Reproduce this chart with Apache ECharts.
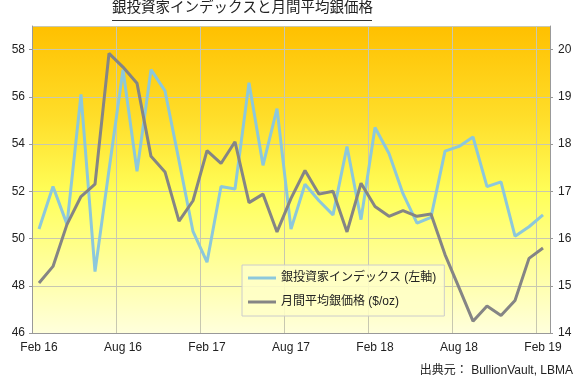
<!DOCTYPE html>
<html>
<head>
<meta charset="utf-8">
<script src="https://cdn.jsdelivr.net/npm/echarts@6/dist/echarts.min.js"></script>
<style>
html,body{margin:0;padding:0;background:#fff;}
#chart{width:580px;height:382px;}
</style>
</head>
<body>
<div id="chart"></div>
<script>
const categories = [
  'Feb 16','Mar 16','Apr 16','May 16','Jun 16','Jul 16','Aug 16','Sep 16','Oct 16','Nov 16','Dec 16','Jan 17',
  'Feb 17','Mar 17','Apr 17','May 17','Jun 17','Jul 17','Aug 17','Sep 17','Oct 17','Nov 17','Dec 17','Jan 18',
  'Feb 18','Mar 18','Apr 18','May 18','Jun 18','Jul 18','Aug 18','Sep 18','Oct 18','Nov 18','Dec 18','Jan 19',
  'Feb 19'
];
const indexValues = [
  50.4, 52.2, 50.6, 56.1, 48.6, 52.9, 57.15, 52.85, 57.15, 56.25, 53.3, 50.3,
  49.0, 52.2, 52.1, 56.6, 53.1, 55.5, 50.4, 52.3, 51.6, 51.0, 53.9, 50.8,
  54.7, 53.6, 51.9, 50.65, 50.9, 53.7, 53.9, 54.3, 52.2, 52.4, 50.1, 50.5,
  51.0
];
const silverPrice = [
  15.06, 15.41, 16.3, 16.89, 17.15, 19.92, 19.63, 19.29, 17.74, 17.41, 16.37, 16.80,
  17.86, 17.59, 18.05, 16.76, 16.94, 16.14, 16.85, 17.44, 16.94, 17.0, 16.14, 17.17,
  16.68, 16.47, 16.59, 16.47, 16.52, 15.66, 14.96, 14.25, 14.57, 14.37, 14.69, 15.58,
  15.8
];
const seriesNames = ['銀投資家インデックス (左軸)', '月間平均銀価格 ($/oz)'];
const titleText = '銀投資家インデックスと月間平均銀価格';
const sourceText = '出典元： BullionVault, LBMA';

const FONT = "'Liberation Sans', Arial, 'Noto Sans CJK JP', sans-serif";
const chart = echarts.init(document.getElementById('chart'), null, {renderer: 'canvas'});
chart.setOption({
  backgroundColor: '#ffffff',
  animation: false,
  textStyle: {fontFamily: FONT},
  title: [
    {text: titleText, left: 112, top: 1, padding: 0,
     textStyle: {fontSize: 14.5, fontWeight: 'normal', color: '#222', fontFamily: FONT}},
    {text: sourceText, right: 7, top: 365, padding: 0,
     textStyle: {fontSize: 12, fontWeight: 'normal', color: '#222', fontFamily: FONT}}
  ],
  graphic: [
    {type: 'line', shape: {x1: 112, y1: 20.5, x2: 372, y2: 20.5},
     style: {stroke: '#333', lineWidth: 1}}
  ],
  grid: {
    left: 32, right: 30, top: 26, bottom: 49,
    show: true, borderWidth: 0,
    backgroundColor: new echarts.graphic.LinearGradient(0, 0, 0, 1, [
      {offset: 0, color: '#FFC000'},
      {offset: 0.3, color: '#FFDE2A'},
      {offset: 0.55, color: '#FFFF5A'},
      {offset: 1, color: '#FFFFDC'}
    ])
  },
  legend: {
    orient: 'vertical', left: 242, top: 265,
    padding: [7, 8, 8, 6], itemGap: 12,
    itemWidth: 28, itemHeight: 3, icon: 'rect',
    backgroundColor: 'rgba(255,255,200,0.85)',
    borderColor: '#cccccc', borderWidth: 1,
    textStyle: {fontSize: 12, color: '#222', fontFamily: FONT},
    data: seriesNames
  },
  xAxis: {
    type: 'category', data: categories, boundaryGap: true,
    axisLine: {lineStyle: {color: '#999', width: 1}},
    axisTick: {interval: 5, length: 4, lineStyle: {color: '#999'}},
    axisLabel: {interval: 5, margin: 9, fontSize: 12, color: '#222', fontFamily: FONT},
    splitLine: {show: true, interval: 5, lineStyle: {color: '#c8c8b0', width: 1}}
  },
  yAxis: [
    {type: 'value', min: 46, max: 59, interval: 2, position: 'left',
     axisLine: {show: true, lineStyle: {color: '#999'}},
     axisTick: {show: true, length: 3, lineStyle: {color: '#999'}},
     axisLabel: {showMaxLabel: false, margin: 7, fontSize: 12, color: '#222', fontFamily: FONT},
     splitLine: {show: true, lineStyle: {color: '#c8c8b0', width: 1}}},
    {type: 'value', min: 14, max: 20.5, interval: 1, position: 'right',
     axisLine: {show: true, lineStyle: {color: '#999'}},
     axisTick: {show: true, length: 3, lineStyle: {color: '#999'}},
     axisLabel: {showMaxLabel: false, margin: 8, fontSize: 12, color: '#222', fontFamily: FONT},
     splitLine: {show: false}}
  ],
  series: [
    {name: seriesNames[0], type: 'line', yAxisIndex: 0, data: indexValues,
     symbol: 'none', lineStyle: {color: '#8CC8DC', width: 3}, itemStyle: {color: '#8CC8DC'}},
    {name: seriesNames[1], type: 'line', yAxisIndex: 1, data: silverPrice,
     symbol: 'none', lineStyle: {color: '#858585', width: 3}, itemStyle: {color: '#858585'}}
  ]
});
</script>
</body>
</html>
